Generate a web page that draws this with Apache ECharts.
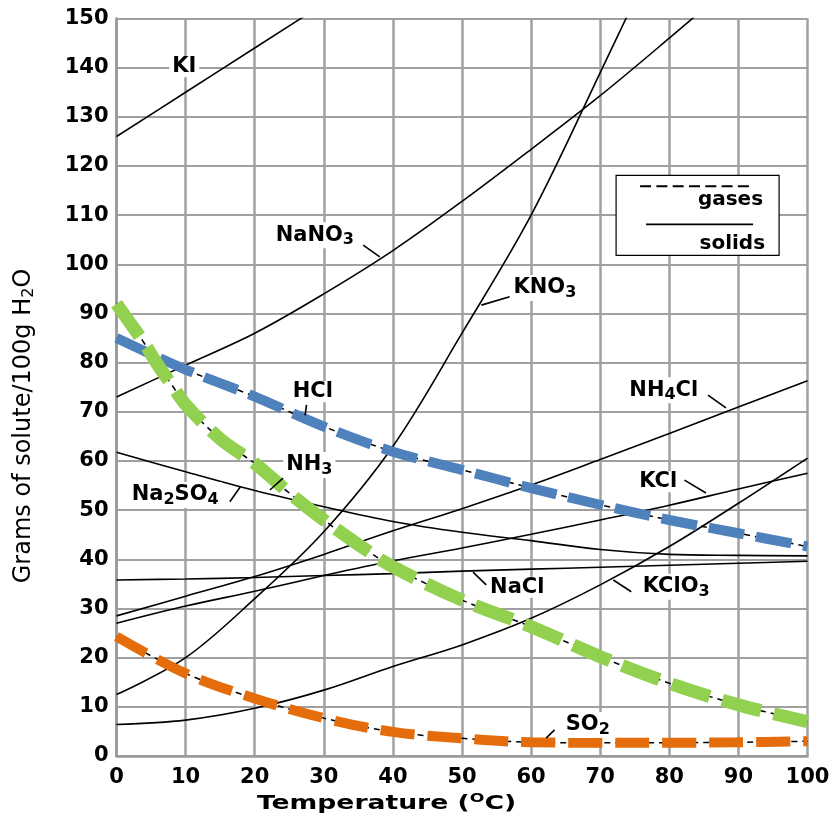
<!DOCTYPE html>
<html><head><meta charset="utf-8">
<script src="https://cdn.jsdelivr.net/npm/echarts/dist/echarts.min.js"></script>
<style>html,body{margin:0;padding:0;background:#fff}#c{width:838px;height:826px}</style>
</head><body><div id="c"></div>
<script>
// ---- data (grams of solute per 100 g H2O) ----
const temps = [0,10,20,30,40,50,60,70,80,90,100];
const kiTemps = [0,10,20,30,40];
const kiValues = [126,135,144,153,162];
const nano3Values = [73,79.5,86,94,102.8,112.8,123.4,134.3,146,158,170];
const kno3Values = [12.5,20,32,45.6,63,86,110,139,169,202,246];
const nh4clValues = [28.5,32.5,36.5,41,45.8,50.3,55.1,60.3,65.6,71,76.3];
const kclValues = [27,30.5,33.5,36.7,39.7,42.3,45.1,48,51,54.3,57.5];
const naclValues = [35.8,36,36.3,36.7,37.1,37.6,38,38.4,38.8,39.2,39.6];
const na2so4Values = [61.8,57.8,54,50.7,47.7,45.5,43.8,42,41,40.8,40.7];
const kclo3Values = [6.4,7.3,9.7,13.4,18.2,22.6,28,34.8,42.6,51.4,60.6];
const hclValues = [85,78.6,73.1,67,61.9,58.2,54.5,51.1,48,45.3,42.6];
const nh3Temps = [0,2,4,6,8,10,15,20,25,30,35,40,50,60,70,80,90,100];
const nh3Values = [92,88,84,79.5,75.5,71.5,64.5,59.5,53.5,48,43,38.5,31.7,26.3,20.2,14.8,10.4,7];
const so2Values = [24.3,16.8,11.7,7.7,4.9,3.6,2.8,2.7,2.7,2.8,3.0];
const xTickStep = 10, yTickStep = 10;

// annotation text (positions in data units)
const annotations = [
  {text:'KI', at:[9.8,140.2]},
  {text:'NaNO{s|3}', at:[28.7,105.9], leader:[[35.7,103.9],[38.1,101.5]]},
  {text:'KNO{s|3}', at:[62.0,95.2], leader:[[56.9,93.4],[52.8,91.7]]},
  {text:'NH{s|4}Cl', at:[79.2,74.4], leader:[[85.6,73.4],[88.2,70.8]]},
  {text:'HCl', at:[28.4,74.1], leader:[[27.5,71.4],[27.3,69.3]]},
  {text:'NH{s|3}', at:[27.9,59.2], leader:[[24.1,56.5],[22.2,54.1]]},
  {text:'Na{s|2}SO{s|4}', at:[8.5,53.1], leader:[[16.4,51.7],[17.9,54.7]]},
  {text:'KCl', at:[78.4,55.8], leader:[[82.2,56.1],[85.3,53.5]]},
  {text:'NaCl', at:[58.0,34.3], leader:[[53.5,34.8],[51.6,37.4]]},
  {text:'KClO{s|3}', at:[81.0,34.4], leader:[[74.5,33.4],[71.9,35.8]]},
  {text:'SO{s|2}', at:[68.2,6.3], leader:[[63.4,5.3],[62.2,3.7]]}
];
const legendAnchor = [72.3,118.1];

function pts(xs, ys){ return xs.map((x,i)=>[x, ys[i]]); }

const chart = echarts.init(document.getElementById('c'), null, {renderer:'canvas'});
const FONT = 'DejaVu Sans';

function solid(name, xs, ys){
  return {name, type:'line', data:pts(xs,ys), smooth:0.35, symbol:'none', clip:true, silent:true,
    lineStyle:{color:'#000', width:1.6}, z:3};
}
function gasUnder(name, xs, ys){
  return {name:name+'_u', type:'line', data:pts(xs,ys), smooth:0.35, symbol:'none', clip:true, silent:true,
    lineStyle:{color:'#000', width:1.5, type:[6,5]}, z:4};
}
function gas(name, xs, ys, color, width, dash){
  return {name, type:'line', data:pts(xs,ys), smooth:0.35, symbol:'none', clip:true, silent:true,
    lineStyle:{color, width, type:dash, cap:'butt'}, z:5};
}

const labelStyle = {color:'#000', fontFamily:FONT, fontWeight:'bold', fontSize:21};

chart.setOption({
  animation:false,
  backgroundColor:'#fff',
  grid:{left:116.5, right:30.5, top:18.5, bottom:70, containLabel:false},
  xAxis:{type:'value', min:0, max:100, interval:xTickStep,
    axisLine:{show:true, lineStyle:{color:'#999', width:2.5}},
    axisTick:{show:false},
    splitLine:{show:true, lineStyle:{color:'#a0a0a0', width:2.5}},
    axisLabel:Object.assign({margin:11, showMinLabel:true, showMaxLabel:true}, labelStyle)},
  yAxis:{type:'value', min:0, max:150, interval:yTickStep,
    axisLine:{show:true, lineStyle:{color:'#999', width:2.5}},
    axisTick:{show:false},
    splitLine:{show:true, lineStyle:{color:'#a0a0a0', width:2}},
    axisLabel:Object.assign({margin:8, showMinLabel:true, showMaxLabel:true}, labelStyle)},
  series:[
    solid('KI', kiTemps, kiValues),
    solid('NaNO3', temps, nano3Values),
    solid('KNO3', temps, kno3Values),
    solid('NH4Cl', temps, nh4clValues),
    solid('KCl', temps, kclValues),
    solid('NaCl', temps, naclValues),
    solid('Na2SO4', temps, na2so4Values),
    solid('KClO3', temps, kclo3Values),
    gasUnder('HCl', temps, hclValues),
    gasUnder('NH3', nh3Temps, nh3Values),
    gasUnder('SO2', temps, so2Values),
    gas('HCl', temps, hclValues, '#4f81bd', 10, [36,12]),
    gas('NH3', nh3Temps, nh3Values, '#92d050', 13, [40,13]),
    gas('SO2', temps, so2Values, '#e46c0a', 10, [34,13])
  ]
});

const P = (c) => chart.convertToPixel({gridIndex:0}, c);
const subRich = {s:{fontFamily:FONT, fontWeight:'bold', fontSize:16, fill:'#000', padding:[10,0,0,0]}};
const graphics = [];
annotations.forEach(a => {
  const p = P(a.at);
  graphics.push({type:'text', x:p[0], y:p[1], z:100,
    style:{text:a.text, rich:subRich, fill:'#000', fontFamily:FONT, fontWeight:'bold', fontSize:21,
      align:'center', verticalAlign:'middle', backgroundColor:'#fff', padding:[0,3,0,3]}});
  if (a.leader){
    const p1 = P(a.leader[0]), p2 = P(a.leader[1]);
    graphics.push({type:'line', z:100, shape:{x1:p1[0], y1:p1[1], x2:p2[0], y2:p2[1]},
      style:{stroke:'#000', lineWidth:1.6}});
  }
});
// legend box
const L = P(legendAnchor);
graphics.push({type:'group', x:L[0], y:L[1], z:100, children:[
  {type:'rect', shape:{x:0, y:0, width:163, height:80}, style:{fill:'#fff', stroke:'#000', lineWidth:1.2}},
  {type:'line', shape:{x1:24, y1:11, x2:137, y2:11}, style:{stroke:'#000', lineWidth:2, lineDash:[11,5.3]}},
  {type:'text', x:147, y:24, style:{text:'gases', fill:'#000', fontFamily:FONT, fontWeight:'bold', fontSize:20, align:'right', verticalAlign:'middle'}},
  {type:'line', shape:{x1:30, y1:49, x2:137, y2:49}, style:{stroke:'#000', lineWidth:1.6}},
  {type:'text', x:149, y:68, style:{text:'solids', fill:'#000', fontFamily:FONT, fontWeight:'bold', fontSize:20, align:'right', verticalAlign:'middle'}}
]});
// axis titles
graphics.push({type:'text', x:386.5, y:804, scaleX:1.33, z:100,
  style:{text:'Temperature ({o|O}C)', fill:'#000', fontFamily:FONT, fontWeight:'bold', fontSize:20,
    align:'center', verticalAlign:'middle',
    rich:{o:{fontFamily:FONT, fontWeight:'bold', fontSize:13, fill:'#000', padding:[0,0,10,0]}}}});
graphics.push({type:'text', x:24, y:426, rotation:Math.PI/2, z:100,
  style:{text:'Grams of solute/100g H{h|2}O', fill:'#000', fontFamily:FONT, fontSize:24,
    align:'center', verticalAlign:'middle',
    rich:{h:{fontFamily:FONT, fontSize:16, fill:'#000', padding:[10,0,0,0]}}}});
chart.setOption({graphic:graphics});
</script></body></html>
